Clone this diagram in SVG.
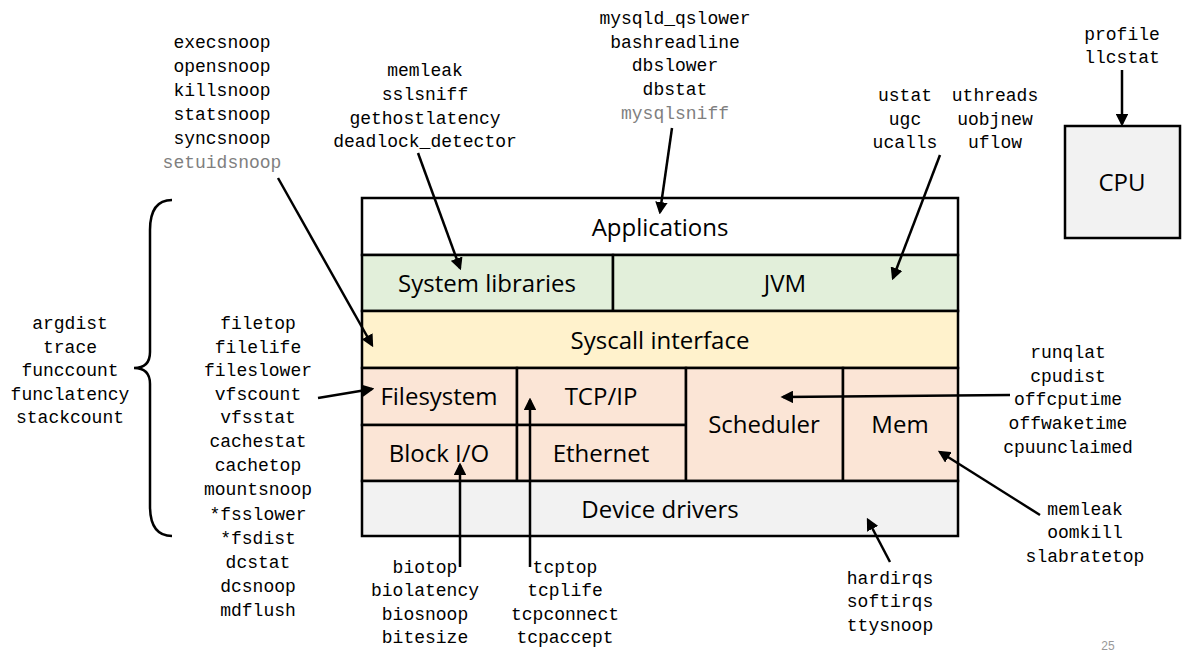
<svg xmlns="http://www.w3.org/2000/svg" width="1200" height="661" viewBox="0 0 1200 661">
<defs>
<style>
.t{font-family:"Liberation Mono",monospace;font-size:18px;text-anchor:middle;fill:#000}
.g{fill:#7f7f7f}
.b{font-family:"Open Sans","Liberation Sans",sans-serif;font-size:24px;text-anchor:middle;fill:#000}
.box{stroke:#000;stroke-width:2.5}
.a{stroke:#000;stroke-width:2.5;fill:none;marker-end:url(#ah)}
</style>
<marker id="ah" viewBox="0 0 10 10" refX="8" refY="5" markerWidth="5" markerHeight="5" orient="auto"><path d="M0,0L10,5L0,10z" fill="#000"/></marker>
</defs>
<rect width="1200" height="661" fill="#fff"/>
<g id="applications"><rect class="box" x="362" y="198" width="596" height="57" fill="#fff"/><text class="b" x="660" y="236">Applications</text></g>
<g id="syslibs"><rect class="box" x="362" y="255" width="251" height="56" fill="#e2efda"/><text class="b" x="487" y="292">System libraries</text></g>
<g id="jvm"><rect class="box" x="613" y="255" width="345" height="56" fill="#e2efda"/><text class="b" x="785" y="292">JVM</text></g>
<g id="syscall"><rect class="box" x="362" y="311" width="596" height="57" fill="#fff2cc"/><text class="b" x="660" y="349">Syscall interface</text></g>
<g id="filesystem"><rect class="box" x="362" y="368" width="155" height="57" fill="#fbe5d6"/><text class="b" x="439" y="405">Filesystem</text></g>
<g id="tcpip"><rect class="box" x="517" y="368" width="169" height="57" fill="#fbe5d6"/><text class="b" x="601" y="405">TCP/IP</text></g>
<g id="blockio"><rect class="box" x="362" y="425" width="155" height="56" fill="#fbe5d6"/><text class="b" x="439" y="462">Block I/O</text></g>
<g id="ethernet"><rect class="box" x="517" y="425" width="169" height="56" fill="#fbe5d6"/><text class="b" x="601" y="462">Ethernet</text></g>
<g id="scheduler"><rect class="box" x="686" y="368" width="157" height="113" fill="#fbe5d6"/><text class="b" x="764" y="433">Scheduler</text></g>
<g id="mem"><rect class="box" x="843" y="368" width="115" height="113" fill="#fbe5d6"/><text class="b" x="900" y="433">Mem</text></g>
<g id="drivers"><rect class="box" x="362" y="481" width="596" height="55" fill="#f2f2f2"/><text class="b" x="660" y="518">Device drivers</text></g>
<g id="cpu"><rect class="box" x="1065" y="126" width="115" height="112" fill="#f2f2f2"/><text class="b" x="1122" y="191">CPU</text></g>
<g id="labels">
<text class="t" x="222" y="48">execsnoop</text><text class="t" x="222" y="72">opensnoop</text><text class="t" x="222" y="96">killsnoop</text><text class="t" x="222" y="120">statsnoop</text><text class="t" x="222" y="144">syncsnoop</text><text class="t g" x="222" y="168">setuidsnoop</text>
<text class="t" x="425" y="76">memleak</text><text class="t" x="425" y="100">sslsniff</text><text class="t" x="425" y="124">gethostlatency</text><text class="t" x="425" y="147">deadlock_detector</text>
<text class="t" x="675" y="24">mysqld_qslower</text><text class="t" x="675" y="48">bashreadline</text><text class="t" x="675" y="71">dbslower</text><text class="t" x="675" y="95">dbstat</text><text class="t g" x="675" y="119">mysqlsniff</text>
<text class="t" x="905" y="101">ustat</text><text class="t" x="905" y="125">ugc</text><text class="t" x="905" y="148">ucalls</text>
<text class="t" x="995" y="101">uthreads</text><text class="t" x="995" y="125">uobjnew</text><text class="t" x="995" y="148">uflow</text>
<text class="t" x="1122" y="40">profile</text><text class="t" x="1122" y="63">llcstat</text>
<text class="t" x="70" y="329">argdist</text><text class="t" x="70" y="353">trace</text><text class="t" x="70" y="376">funccount</text><text class="t" x="70" y="400">funclatency</text><text class="t" x="70" y="423">stackcount</text>
<text class="t" x="258" y="329">filetop</text><text class="t" x="258" y="353">filelife</text><text class="t" x="258" y="376">fileslower</text><text class="t" x="258" y="400">vfscount</text><text class="t" x="258" y="423">vfsstat</text><text class="t" x="258" y="447">cachestat</text><text class="t" x="258" y="471">cachetop</text><text class="t" x="258" y="495">mountsnoop</text><text class="t" x="258" y="520">*fsslower</text><text class="t" x="258" y="544">*fsdist</text><text class="t" x="258" y="568">dcstat</text><text class="t" x="258" y="592">dcsnoop</text><text class="t" x="258" y="616">mdflush</text>
<text class="t" x="1068" y="358">runqlat</text><text class="t" x="1068" y="382">cpudist</text><text class="t" x="1068" y="405">offcputime</text><text class="t" x="1068" y="429">offwaketime</text><text class="t" x="1068" y="453">cpuunclaimed</text>
<text class="t" x="1085" y="515">memleak</text><text class="t" x="1085" y="538">oomkill</text><text class="t" x="1085" y="562">slabratetop</text>
<text class="t" x="890" y="584">hardirqs</text><text class="t" x="890" y="607">softirqs</text><text class="t" x="890" y="631">ttysnoop</text>
<text class="t" x="425" y="573">biotop</text><text class="t" x="425" y="596">biolatency</text><text class="t" x="425" y="620">biosnoop</text><text class="t" x="425" y="643">bitesize</text>
<text class="t" x="565" y="573">tcptop</text><text class="t" x="565" y="596">tcplife</text><text class="t" x="565" y="620">tcpconnect</text><text class="t" x="565" y="643">tcpaccept</text>
<text x="1108" y="650" style="font-family:'Liberation Sans',sans-serif;font-size:12px;fill:#999;text-anchor:middle">25</text>
</g>
<g id="connectors">
<path d="M172,200 Q150,200 150,230 L150,352 Q150,368 134,368 Q150,368 150,384 L150,506 Q150,536 172,536" stroke="#000" stroke-width="2.5" fill="none"/>
<line class="a" x1="278" y1="178" x2="372" y2="345"/>
<line class="a" x1="418" y1="153" x2="460" y2="268"/>
<line class="a" x1="672" y1="128" x2="660" y2="212"/>
<line class="a" x1="940" y1="155" x2="893" y2="278"/>
<line class="a" x1="1122" y1="70" x2="1122" y2="124"/>
<line class="a" x1="318" y1="398" x2="372" y2="389"/>
<line class="a" x1="1010" y1="395" x2="783" y2="397"/>
<line class="a" x1="1040" y1="515" x2="940" y2="452"/>
<line class="a" x1="890" y1="562" x2="868" y2="520"/>
<line class="a" x1="460" y1="567" x2="460" y2="465"/>
<line class="a" x1="530" y1="567" x2="530" y2="400"/>
</g>
</svg>
